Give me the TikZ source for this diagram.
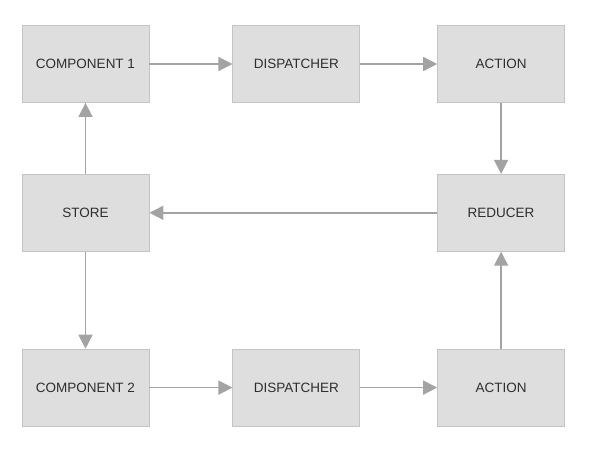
\documentclass[tikz,border=0pt]{standalone}
\usepackage{fontspec}
\setmainfont{Liberation Sans}
\usetikzlibrary{arrows.meta,positioning}

\definecolor{boxfill}{HTML}{DEDEDE}
\definecolor{boxline}{HTML}{C4C4C4}
\definecolor{arrowgray}{HTML}{A3A3A3}
\definecolor{textgray}{HTML}{2E2E2E}

\begin{document}
\begin{tikzpicture}[
        x=1pt, y=-1pt,
        font=\fontsize{13.5}{16}\selectfont,
        box/.style={
            rectangle,
            draw=boxline,
            fill=boxfill,
            text=textgray,
            line width=0.8pt,
            minimum width=127pt,
            minimum height=77pt,
            inner sep=0pt,
            align=center
        },
        arrow/.style={
            draw=arrowgray,
            line width=1.6pt,
            -{Triangle[length=14pt,width=14pt]}
        }
    ]
    \useasboundingbox (0,0) rectangle (592,450);
    % Top row
    \node[box] (comp1) at (85.5,64) {COMPONENT 1};
    \node[box, right=83pt of comp1] (disp1) {DISPATCHER};
    \node[box, right=77pt of disp1] (act1) {ACTION};
    % Middle row
    \node[box, below=71pt of comp1] (store) {STORE};
    \node[box, below=71pt of act1] (reducer) {REDUCER};
    % Bottom row
    \node[box, below=97pt of store] (comp2) {COMPONENT 2};
    \node[box, right=83pt of comp2] (disp2) {DISPATCHER};
    \node[box, right=77pt of disp2] (act2) {ACTION};
    % Flow
    \draw[arrow] (comp1) -- (disp1);
    \draw[arrow] (disp1) -- (act1);
    \draw[arrow] (act1) -- (reducer);
    \draw[arrow] (reducer) -- (store);
    \draw[arrow] (store) -- (comp1);
    \draw[arrow] (store) -- (comp2);
    \draw[arrow] (comp2) -- (disp2);
    \draw[arrow] (disp2) -- (act2);
    \draw[arrow] (act2) -- (reducer);
\end{tikzpicture}
\end{document}
